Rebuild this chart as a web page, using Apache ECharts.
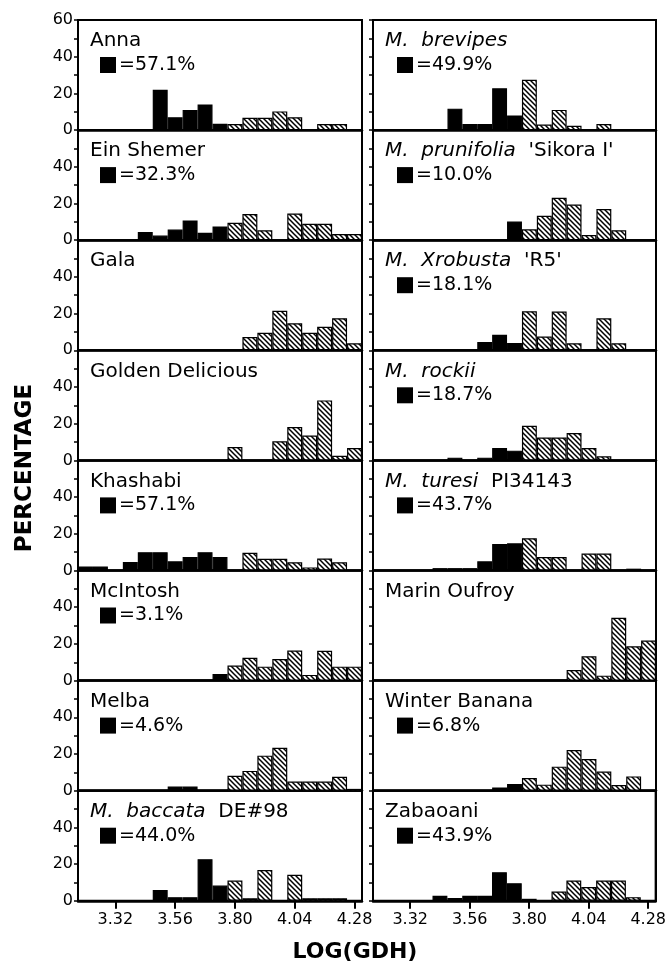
<!DOCTYPE html>
<html>
<head>
<meta charset="UTF-8">
<title></title>
<script src="https://cdn.jsdelivr.net/npm/echarts@6/dist/echarts.min.js"></script>
</head>
<body style="margin:0;background:#fff;overflow:hidden;">
<div id="main" style="width:669px;height:963px;"></div>
<script type="text/javascript">
// log(GDH) bin centres, 0.06 wide
var binCentres = ['3.20','3.26','3.32','3.38','3.44','3.50','3.56','3.62','3.68','3.74','3.80','3.86','3.92','3.98','4.04','4.10','4.16','4.22','4.28'];
var xTickLabels = ['3.32','3.56','3.80','4.04','4.28'];
var yTickLabels = [0, 20, 40, 60];

// left column, top to bottom (percent per bin)
var anna        = [0,0,0,0,0,22,7,11,14,3.5, 3.3,6.7,6.7,10.2,7,0,3.3,3.3,0];
var einShemer   = [0,0,0,0,4.5,2.5,5.8,10.8,4,7.5, 9.5,14.3,5.4,0,14.5,9,9,3.4,3.4];
var gala        = [0,0,0,0,0,0,0,0,0,0, 0,7.2,9.5,21.5,14.7,9.5,12.8,17.5,3.8];
var golden      = [0,0,0,0,0,0,0,0,0,0, 7.3,0,0,10.4,18.2,13.6,32.7,2.5,6.7];
var khashabi    = [2.2,2.2,0,4.7,10,10,5,7.3,10,7.3, 0,9.7,6.4,6.4,4.5,1.7,6.5,4.5,0];
var mcintosh    = [0,0,0,0,0,0,0,0,0,3.6, 8.2,12.4,7.6,11.8,16.4,3.1,16.2,7.6,7.6];
var melba       = [0,0,0,0,0,0,2.3,2.3,0,0, 8.1,10.8,19.1,23.4,5,5,5,7.6,1];
var baccata     = [0,0,0,0,0,5.9,2,2,22.7,8.3, 11,1.4,16.8,0,14.2,1.4,1.4,1.4,0];
// right column, top to bottom
var brevipes    = [0,0,0,0,0,11.7,3.3,3.3,22.8,8, 27.4,3,11,2.4,0,3.3,0,0,0];
var prunifolia  = [0,0,0,0,0,0,0,0,0,10.2, 5.9,13.3,23.1,19.4,2.8,17,5.4,0,0];
var xrobusta    = [0,0,0,0,0,0,0,4.5,8.5,4, 21.3,7.5,21.1,3.8,0,17.4,3.8,0,0];
var rockii      = [0,0,0,0,0,1.5,0,1.5,6.7,5.3, 18.9,12.5,12.5,14.9,6.7,2.2,0,0,0];
var turesi      = [0,0,0,0,1.3,1.3,1.3,5,14.4,14.8, 17.6,7.3,7.3,0,9.2,9.2,0,1,0];
var marinOufroy = [0,0,0,0,0,0,0,0,0,0, 0,0,0,5.8,13.3,2.7,34.2,18.7,21.8];
var winterBanana= [0,0,0,0,0,0,0,0,1.8,3.6, 6.9,3.3,13.1,22.2,17.3,10.4,3.1,7.8,0];
var zabaoani    = [0,0,0,0,2.7,1.5,2.7,2.7,15.6,9.6, 1.1,0,5.1,11.1,7.5,11.1,11.1,2,0];

var leftData  = [anna, einShemer, gala, golden, khashabi, mcintosh, melba, baccata];
var rightData = [brevipes, prunifolia, xrobusta, rockii, turesi, marinOufroy, winterBanana, zabaoani];

var leftItalic  = ['', '', '', '', '', '', '', 'M.  baccata'];
var leftPlain   = ['Anna', 'Ein Shemer', 'Gala', 'Golden Delicious', 'Khashabi', 'McIntosh', 'Melba', 'DE#98'];
var leftPct     = ['57.1', '32.3', '', '', '57.1', '3.1', '4.6', '44.0'];
var leftFirstHatched = [10, 10, 10, 10, 10, 10, 10, 10];

var rightItalic = ['M.  brevipes', 'M.  prunifolia', 'M.  Xrobusta', 'M.  rockii', 'M.  turesi', '', '', ''];
var rightPlain  = ['', "'Sikora I'", "'R5'", '', 'PI34143', 'Marin Oufroy', 'Winter Banana', 'Zabaoani'];
var rightPct    = ['49.9', '10.0', '18.1', '18.7', '43.7', '', '6.8', '43.9'];
var rightFirstHatched = [10, 10, 10, 10, 10, 10, 10, 11];

// diagonal hatch fill
var hatch = document.createElement('canvas');
hatch.width = 5; hatch.height = 5;
var hc = hatch.getContext('2d');
hc.fillStyle = '#fff'; hc.fillRect(0, 0, 5, 5);
hc.strokeStyle = '#000'; hc.lineWidth = 1.5;
hc.beginPath();
hc.moveTo(-1, -1); hc.lineTo(6, 6);
hc.moveTo(-1, 4); hc.lineTo(1, 6);
hc.moveTo(4, -1); hc.lineTo(6, 1);
hc.stroke();
var hatchFill = { image: hatch, repeat: 'repeat' };

var FONT = 'DejaVu Sans';
var PANEL_TOP = 20, PANEL_H = 110.1;
var COL_LEFT = [78, 373];
var COL_W = [284, 283];

var grids = [], xAxes = [], yAxes = [], series = [], titles = [];
var columns = [
    { data: leftData,  italic: leftItalic,  plain: leftPlain,  pct: leftPct,  split: leftFirstHatched },
    { data: rightData, italic: rightItalic, plain: rightPlain, pct: rightPct, split: rightFirstHatched }
];

function showTick(i, v) { return xTickLabels.indexOf(v) >= 0; }

columns.forEach(function (colInfo, col) {
    for (var row = 0; row < 8; row++) {
        var idx = grids.length;
        var top = PANEL_TOP + row * PANEL_H;
        var left = COL_LEFT[col];
        var isBottom = row === 7;
        grids.push({
            left: left, top: top, width: COL_W[col], height: PANEL_H,
            show: true, borderColor: '#000', borderWidth: 2, backgroundColor: 'transparent'
        });
        xAxes.push({
            type: 'category', gridIndex: idx, data: binCentres, boundaryGap: true,
            axisLine: { show: true, lineStyle: { color: '#000', width: 2.5 } },
            axisTick: { show: isBottom, alignWithLabel: true, interval: showTick, length: 8, lineStyle: { color: '#000', width: 2 } },
            axisLabel: { show: isBottom, interval: showTick, margin: 11, color: '#000', fontFamily: FONT, fontSize: 16 },
            splitLine: { show: false }
        });
        (function (r) {
            yAxes.push({
                type: 'value', gridIndex: idx, min: 0, max: 60, interval: 10,
                axisLine: { show: true, lineStyle: { color: '#000', width: 2 } },
                axisTick: { show: true, length: 4, lineStyle: { color: '#000', width: 1.5 } },
                axisLabel: {
                    show: col === 0, margin: 5, color: '#000', fontFamily: FONT, fontSize: 16,
                    formatter: function (v) {
                        return (yTickLabels.indexOf(v) >= 0 && (v < 60 || r === 0)) ? String(v) : '';
                    }
                },
                splitLine: { show: false }
            });
        })(row);
        // right frame edge
        yAxes.push({
            type: 'value', gridIndex: idx, position: 'right', min: 0, max: 60, interval: 10,
            axisLine: { show: true, onZero: false, lineStyle: { color: '#000', width: 2 } },
            axisTick: { show: false }, axisLabel: { show: false }, splitLine: { show: false }
        });

        var split = colInfo.split[row];
        series.push({
            type: 'bar', xAxisIndex: idx, yAxisIndex: idx * 2,
            barCategoryGap: '0%', silent: true,
            itemStyle: { borderColor: '#000', borderWidth: 1.2 },
            data: colInfo.data[row].map(function (v, i) {
                if (!v) return '-';
                return { value: v, itemStyle: { color: i < split ? '#000' : hatchFill } };
            })
        });

        var it = colInfo.italic[row], pl = colInfo.plain[row];
        var nameText = (it ? '{i|' + it + '}' : '') + (it && pl ? '  ' : '') + (pl ? '{n|' + pl + '}' : '');
        titles.push({
            left: left + 12, top: top + 11, padding: 0,
            text: nameText,
            textStyle: {
                fontFamily: FONT, fontSize: 20, fontWeight: 'normal', color: '#000',
                rich: {
                    i: { fontFamily: FONT, fontSize: 20, fontStyle: 'italic', color: '#000' },
                    n: { fontFamily: FONT, fontSize: 20, color: '#000' }
                }
            }
        });
        if (colInfo.pct[row]) {
            titles.push({
                left: left + (col === 0 ? 22 : 24), top: top + 36, padding: 0,
                text: '{sq| }{n|=' + colInfo.pct[row] + '%}',
                textStyle: {
                    fontFamily: FONT, fontSize: 19, fontWeight: 'normal', color: '#000',
                    rich: {
                        sq: { width: 16, height: 16, backgroundColor: '#000' },
                        n: { fontFamily: FONT, fontSize: 19, color: '#000', padding: [0, 0, 0, 3], lineHeight: 18 }
                    }
                }
            });
        }
    }
});

var option = {
    backgroundColor: '#fff',
    animation: false,
    title: titles,
    grid: grids,
    xAxis: xAxes,
    yAxis: yAxes,
    series: series,
    graphic: [
        {
            type: 'text', x: 25, y: 468, rotation: Math.PI / 2,
            style: { text: 'PERCENTAGE', font: 'bold 23px "DejaVu Sans"', fill: '#000', align: 'center', verticalAlign: 'middle' }
        },
        {
            type: 'text', x: 355, y: 952,
            style: { text: 'LOG(GDH)', font: 'bold 22px "DejaVu Sans"', fill: '#000', align: 'center', verticalAlign: 'middle' }
        }
    ]
};

var myChart = echarts.init(document.getElementById('main'));
myChart.setOption(option);
</script>
</body>
</html>
